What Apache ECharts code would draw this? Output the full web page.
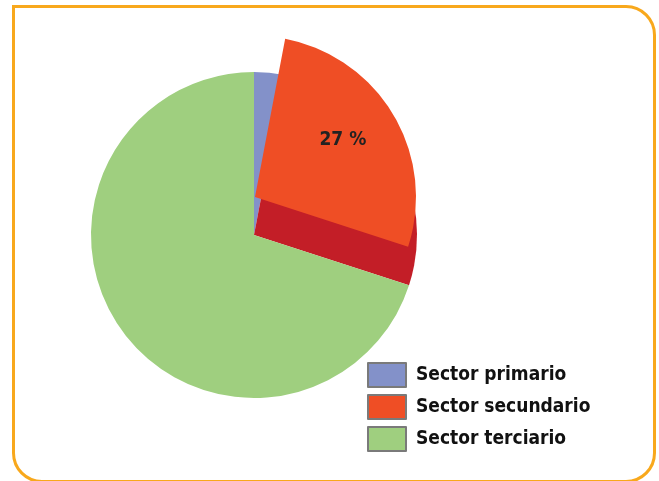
<!DOCTYPE html>
<html>
<head>
<meta charset="utf-8">
<script src="https://cdn.jsdelivr.net/npm/echarts@6/dist/echarts.min.js"></script>
<style>
  html, body { margin: 0; padding: 0; background: #ffffff; }
  #frame { position: absolute; left: 12px; top: 5px; width: 644px; height: 478px; box-sizing: border-box;
           border: 3px solid #f8a81c; border-radius: 0 30px 30px 30px; }
  #chart { position: absolute; left: 0; top: 0; width: 659px; height: 481px; }
</style>
</head>
<body>
<div id="frame"></div>
<div id="chart"></div>
<script>
// Data
const categories = ['Sector primario', 'Sector secundario', 'Sector terciario'];
const values = [3, 27, 70];
const colors = ['#8391c9', '#ef4e25', '#9fcf7f'];
const sideColor = '#c31e27'; // side wall of the raised secondary slice
const raisedIndex = 1;

const chart = echarts.init(document.getElementById('chart'), null, { renderer: 'canvas' });

const baseData = categories.map((name, i) => ({
  name, value: values[i],
  itemStyle: { color: i === raisedIndex ? sideColor : colors[i] }
}));
const topData = categories.map((name, i) => ({
  name, value: values[i],
  itemStyle: { color: i === raisedIndex ? colors[i] : 'rgba(0,0,0,0)' },
  label: { show: i === raisedIndex }
}));

const option = {
  animation: false,
  backgroundColor: 'transparent',
  legend: {
    orient: 'vertical',
    left: 367, top: 362, padding: 0,
    itemWidth: 38, itemHeight: 24, itemGap: 6,
    icon: 'rect',
    selectedMode: false,
    itemStyle: { borderColor: '#7a7a7a', borderWidth: 2 },
    textStyle: { fontFamily: 'DejaVu Sans Condensed', fontWeight: 'bold', fontSize: 19, color: '#111', padding: [0, 0, 0, 5] },
    data: categories.map((name, i) => ({ name, itemStyle: { color: colors[i] } }))
  },
  series: [
    {
      type: 'pie', z: 2,
      center: [254, 235], radius: 163,
      startAngle: 90, clockwise: true,
      padAngle: 0, silent: true,
      itemStyle: { borderWidth: 0 },
      label: { show: false }, labelLine: { show: false },
      emphasis: { disabled: true },
      data: baseData
    },
    {
      type: 'pie', z: 3,
      center: [255, 197], radius: 161,
      startAngle: 90, clockwise: true,
      padAngle: 0, silent: true,
      itemStyle: { borderWidth: 0 },
      label: {
        show: false, position: 'inside',
        formatter: p => Math.round(p.percent) + ' %',
        fontFamily: 'DejaVu Sans Condensed', fontWeight: 'bold', fontSize: 19, color: '#222'
      },
      labelLayout: { dx: 16, dy: -14 },
      labelLine: { show: false },
      emphasis: { disabled: true },
      data: topData
    }
  ]
};
chart.setOption(option);
</script>
</body>
</html>
